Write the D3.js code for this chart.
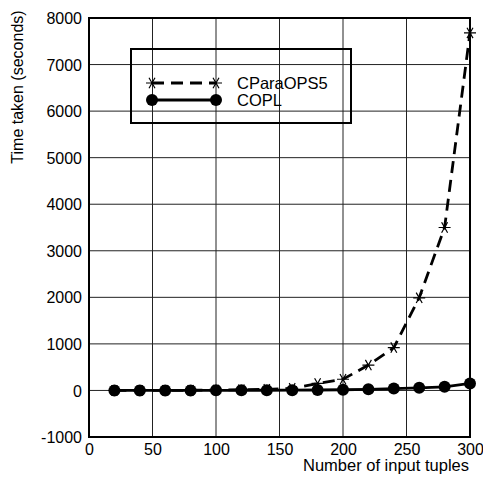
<!DOCTYPE html>
<html>
<head>
<meta charset="utf-8">
<script src="https://cdn.jsdelivr.net/npm/d3@7"></script>
<style>
  body { margin: 0; background: #fff; }
  svg text { font-family: "Liberation Sans", Arial, sans-serif; fill: #000; }
</style>
</head>
<body>
<script>
// 데이터
const tuples = [20, 40, 60, 80, 100, 120, 140, 160, 180, 200, 220, 240, 260, 280, 300];
const cparaops5 = [0, 1, 2, 4, 8, 15, 25, 45, 150, 240, 545, 920, 1990, 3500, 7680];
const copl = [0, 0, 1, 1, 2, 3, 4, 6, 10, 15, 25, 40, 56, 77, 150];
const xTicks = [0, 50, 100, 150, 200, 250, 300];
const yTicks = [-1000, 0, 1000, 2000, 3000, 4000, 5000, 6000, 7000, 8000];
const seriesNames = ["CParaOPS5", "COPL"];

const width = 483, height = 478;
const margin = { left: 89, right: 13, top: 18, bottom: 41 };
const font = "'Liberation Sans', Arial, sans-serif";

const svg = d3.select("body").append("svg")
    .attr("width", width)
    .attr("height", height);

const x = d3.scaleLinear().domain([0, 300]).range([margin.left, width - margin.right]);
const y = d3.scaleLinear().domain([-1000, 8000]).range([height - margin.bottom, margin.top]);

// 그리드
const grid = svg.append("g").attr("stroke", "#222").attr("stroke-width", 1);
grid.selectAll("line.v")
    .data(xTicks.slice(1, -1))
    .enter().append("line")
    .attr("x1", d => x(d)).attr("x2", d => x(d))
    .attr("y1", y(8000)).attr("y2", y(-1000));
grid.selectAll("line.h")
    .data(yTicks.slice(1, -1))
    .enter().append("line")
    .attr("x1", x(0)).attr("x2", x(300))
    .attr("y1", d => y(d)).attr("y2", d => y(d));

// 축 레이블 (하이픈 마이너스 사용)
const plain = d => String(d);
const xAxis = d3.axisBottom(x).tickValues(xTicks).tickFormat(plain).tickSize(0).tickPadding(6);
svg.append("g")
    .attr("transform", `translate(0,${y(-1000)})`)
    .call(xAxis)
    .attr("font-family", font)
    .attr("font-size", 16)
    .call(g => g.select(".domain").remove())
    .selectAll("text").attr("dy", "0.75em");

const yAxis = d3.axisLeft(y).tickValues(yTicks).tickFormat(plain).tickSize(0).tickPadding(7);
svg.append("g")
    .attr("transform", `translate(${x(0)},0)`)
    .call(yAxis)
    .attr("font-family", font)
    .attr("font-size", 16)
    .call(g => g.select(".domain").remove())
    .selectAll("text").attr("dy", "0.35em");

svg.append("text")
    .attr("x", 469).attr("y", 471)
    .attr("text-anchor", "end")
    .style("font-size", "16.5px")
    .text("Number of input tuples");

svg.append("text")
    .attr("transform", "translate(23,87) rotate(-90)")
    .attr("text-anchor", "middle")
    .style("font-size", "16px")
    .text("Time taken (seconds)");

// 별 모양 마커
function star(cx, cy, r) {
    const a = Math.PI / 3;
    let p = `M${cx - r},${cy}L${cx + r},${cy}`;
    p += `M${cx - r * Math.cos(a)},${cy - r * Math.sin(a)}L${cx + r * Math.cos(a)},${cy + r * Math.sin(a)}`;
    p += `M${cx + r * Math.cos(a)},${cy - r * Math.sin(a)}L${cx - r * Math.cos(a)},${cy + r * Math.sin(a)}`;
    return p;
}

const line = d3.line().x(d => x(d[0])).y(d => y(d[1]));

// CParaOPS5
const s1 = tuples.map((t, i) => [t, cparaops5[i]]);
svg.append("path")
    .datum(s1)
    .attr("d", line)
    .attr("fill", "none")
    .attr("stroke", "#000")
    .attr("stroke-width", 2.8)
    .attr("stroke-dasharray", "12,7");
svg.append("g").selectAll("path")
    .data(s1)
    .enter().append("path")
    .attr("d", d => star(x(d[0]), y(d[1]), 6))
    .attr("stroke", "#000")
    .attr("stroke-width", 1.2);

// COPL
const s2 = tuples.map((t, i) => [t, copl[i]]);
svg.append("path")
    .datum(s2)
    .attr("d", line)
    .attr("fill", "none")
    .attr("stroke", "#000")
    .attr("stroke-width", 2.8);
svg.append("g").selectAll("circle")
    .data(s2)
    .enter().append("circle")
    .attr("cx", d => x(d[0]))
    .attr("cy", d => y(d[1]))
    .attr("r", 6)
    .attr("fill", "#000");

// 테두리
svg.append("rect")
    .attr("x", x(0)).attr("y", y(8000))
    .attr("width", x(300) - x(0)).attr("height", y(-1000) - y(8000))
    .attr("fill", "none")
    .attr("stroke", "#000")
    .attr("stroke-width", 2);

// 범례
const legend = svg.append("g");
legend.append("rect")
    .attr("x", 131).attr("y", 49)
    .attr("width", 220).attr("height", 74)
    .attr("fill", "none")
    .attr("stroke", "#000")
    .attr("stroke-width", 2);
const lx1 = 152, lx2 = 216;
const rows = [83, 100];
legend.append("line")
    .attr("x1", lx1).attr("x2", lx2).attr("y1", rows[0]).attr("y2", rows[0])
    .attr("stroke", "#000").attr("stroke-width", 2.8).attr("stroke-dasharray", "12,7");
[lx1, lx2].forEach(px => {
    legend.append("path").attr("d", star(px, rows[0], 6))
        .attr("stroke", "#000").attr("stroke-width", 1.2);
});
legend.append("line")
    .attr("x1", lx1).attr("x2", lx2).attr("y1", rows[1]).attr("y2", rows[1])
    .attr("stroke", "#000").attr("stroke-width", 2.8);
[lx1, lx2].forEach(px => {
    legend.append("circle").attr("cx", px).attr("cy", rows[1]).attr("r", 6).attr("fill", "#000");
});
legend.selectAll("text.lab")
    .data(seriesNames)
    .enter().append("text")
    .attr("x", 237)
    .attr("y", (d, i) => rows[i])
    .attr("dy", "0.35em")
    .style("font-size", "16.5px")
    .text(d => d);
</script>
</body>
</html>
